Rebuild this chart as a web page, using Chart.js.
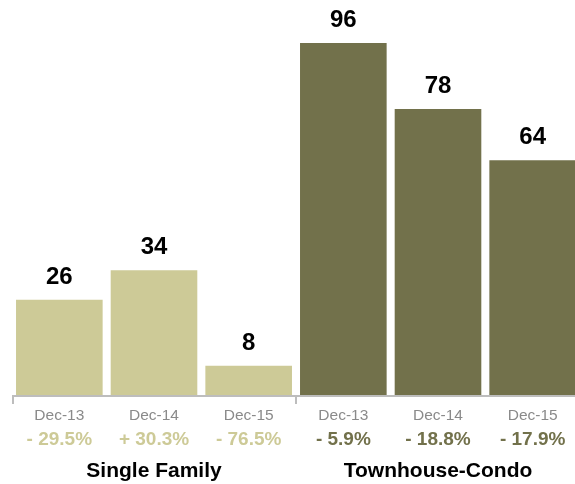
<!DOCTYPE html>
<html>
<head>
<meta charset="utf-8">
<script src="https://cdn.jsdelivr.net/npm/chart.js@4"></script>
<style>
  html, body { margin: 0; padding: 0; background: #fff; overflow: hidden; }
  #wrap { width: 580px; height: 484px; }
</style>
</head>
<body>
<div id="wrap"><canvas id="chart" width="580" height="484"></canvas></div>
<script>
// Categories and groups
const periods = ['Dec-13', 'Dec-14', 'Dec-15'];
const groups = ['Single Family', 'Townhouse-Condo'];

// Values per group
const singleFamily = [26, 34, 8];
const townhouseCondo = [96, 78, 64];

// Year-over-year change (%)
const singleFamilyChange = [-29.5, 30.3, -76.5];
const townhouseCondoChange = [-5.9, -18.8, -17.9];

const groupColors = ['#cdca97', '#72714b'];
const FONT = '"Liberation Sans", Arial, Helvetica, sans-serif';

// Flattened for the chart
const labels = [];
const values = [];
const changes = [];
const colors = [];
[singleFamily, townhouseCondo].forEach((vals, g) => {
    const ch = g === 0 ? singleFamilyChange : townhouseCondoChange;
    vals.forEach((v, i) => {
        labels.push(periods[i]);
        values.push(v);
        changes.push(ch[i]);
        colors.push(groupColors[g]);
    });
});

function fmtChange(v) {
    return (v < 0 ? '- ' : '+ ') + Math.abs(v).toFixed(1) + '%';
}

// Draws value labels, axis bracket, period labels, change row, group names
const labelPlugin = {
    id: 'labelPlugin',
    afterDatasetsDraw(chart) {
        const ctx = chart.ctx;
        const xScale = chart.scales.x;
        const area = chart.chartArea;
        const meta = chart.getDatasetMeta(0);
        ctx.save();

        // value labels above bars
        ctx.fillStyle = '#000';
        ctx.font = 'bold 24px ' + FONT;
        ctx.textAlign = 'center';
        ctx.textBaseline = 'alphabetic';
        meta.data.forEach((bar, i) => {
            ctx.fillText(String(values[i]), bar.x, bar.y - 16);
        });

        // axis line with group brackets
        const base = area.bottom + 1;
        const half = (xScale.getPixelForValue(1) - xScale.getPixelForValue(0)) / 2;
        ctx.strokeStyle = '#bdbdbd';
        ctx.lineWidth = 2;
        ctx.beginPath();
        ctx.moveTo(area.left, base);
        ctx.lineTo(area.right, base);
        ctx.stroke();
        const per = periods.length;
        for (let g = 0; g <= groups.length; g++) {
            let x;
            if (g === 0) x = area.left + 1;
            else if (g === groups.length) x = area.right - 1;
            else x = xScale.getPixelForValue(g * per) - half;
            ctx.beginPath();
            ctx.moveTo(x, base);
            ctx.lineTo(x, base + 8);
            ctx.stroke();
        }

        // period labels and change row
        labels.forEach((lab, i) => {
            const x = xScale.getPixelForValue(i);
            ctx.fillStyle = '#8a8a8a';
            ctx.font = '15.5px ' + FONT;
            ctx.fillText(lab, x, 420);
            ctx.fillStyle = colors[i];
            ctx.font = 'bold 19px ' + FONT;
            ctx.fillText(fmtChange(changes[i]), x, 445);
        });

        // group names
        ctx.fillStyle = '#000';
        ctx.font = 'bold 21px ' + FONT;
        groups.forEach((name, g) => {
            const x0 = xScale.getPixelForValue(g * per) - half;
            const x1 = xScale.getPixelForValue(g * per + per - 1) + half;
            ctx.fillText(name, (x0 + x1) / 2, 477);
        });
        ctx.restore();
    }
};

new Chart(document.getElementById('chart').getContext('2d'), {
    type: 'bar',
    data: {
        labels: labels,
        datasets: [{
            data: values,
            backgroundColor: colors,
            borderWidth: 0,
            barPercentage: 1,
            categoryPercentage: 0.915
        }]
    },
    options: {
        responsive: false,
        animation: false,
        layout: { padding: { left: 12, right: 0, top: 0, bottom: 89 } },
        scales: {
            x: { display: false, grid: { display: false } },
            y: { display: false, min: 0, max: 107.7 }
        },
        plugins: { legend: { display: false }, tooltip: { enabled: false } }
    },
    plugins: [labelPlugin]
});
</script>
</body>
</html>
